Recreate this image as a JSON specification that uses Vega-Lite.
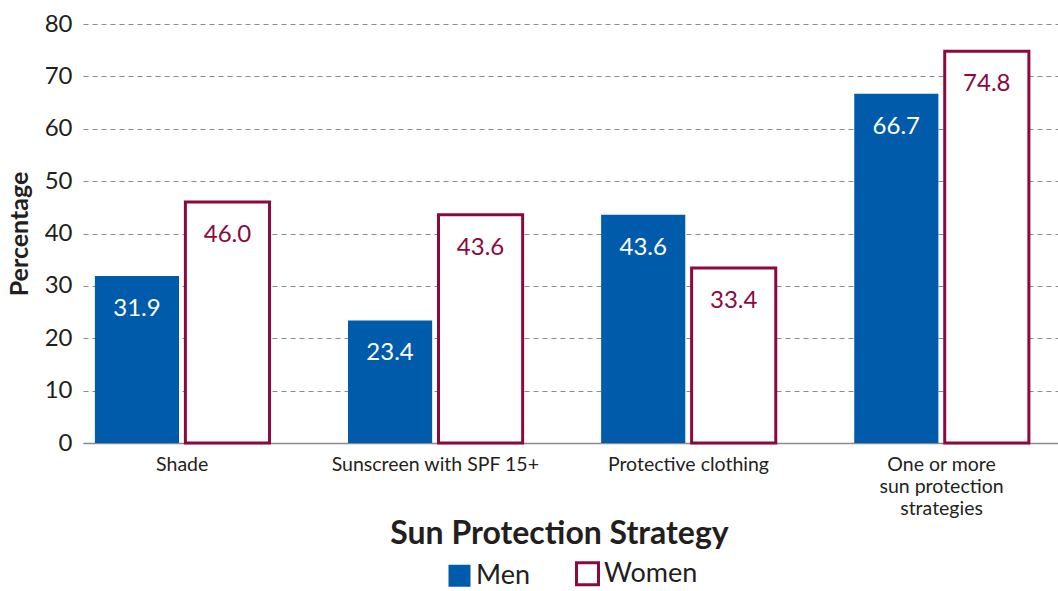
{
  "$schema": "https://vega.github.io/schema/vega-lite/v6.json",
  "width": 975,
  "height": 419,
  "autosize": {"type": "none"},
  "padding": {"left": 83, "top": 24, "right": 0, "bottom": 148},
  "config": {
    "font": "Lato",
    "view": {"stroke": null},
    "axis": {"labelColor": "#231f20", "titleColor": "#231f20"}
  },
  "data": {
    "values": [
      {"strategy": "Shade", "sex": "Men", "pct": 31.9},
      {"strategy": "Shade", "sex": "Women", "pct": 46.0},
      {"strategy": "Sunscreen with SPF 15+", "sex": "Men", "pct": 23.4},
      {"strategy": "Sunscreen with SPF 15+", "sex": "Women", "pct": 43.6},
      {"strategy": "Protective clothing", "sex": "Men", "pct": 43.6},
      {"strategy": "Protective clothing", "sex": "Women", "pct": 33.4},
      {"strategy": "One or more sun protection strategies", "sex": "Men", "pct": 66.7},
      {"strategy": "One or more sun protection strategies", "sex": "Women", "pct": 74.8}
    ]
  },
  "encoding": {
    "x": {
      "field": "strategy",
      "type": "nominal",
      "sort": ["Shade", "Sunscreen with SPF 15+", "Protective clothing", "One or more sun protection strategies"],
      "scale": {"paddingInner": 0.31, "paddingOuter": 0.081, "align": 0.29},
      "axis": {
        "title": "Sun Protection Strategy",
        "titleFontSize": 32,
        "titleFontWeight": "bold",
        "titleX": 476,
        "titleY": 90,
        "titleBaseline": "middle",
        "labelAngle": 0,
        "labelFontSize": 19.5,
        "labelLimit": 300,
        "labelPadding": 12,
        "labelLineHeight": 22,
        "labelExpr": "datum.label == 'One or more sun protection strategies' ? ['One or more', 'sun protection', 'strategies'] : datum.label",
        "ticks": false,
        "domainColor": "#8a8a8a",
        "domainWidth": 1.5,
        "grid": false
      }
    },
    "xOffset": {
      "field": "sex",
      "type": "nominal",
      "sort": ["Men", "Women"],
      "scale": {"paddingInner": 0.07}
    },
    "y": {
      "field": "pct",
      "type": "quantitative",
      "scale": {"domain": [0, 80]},
      "axis": {
        "title": "Percentage",
        "titleFontSize": 25,
        "titleFontWeight": "bold",
        "titlePadding": 12,
        "values": [0, 10, 20, 30, 40, 50, 60, 70, 80],
        "labelFontSize": 24,
        "labelPadding": 11,
        "ticks": false,
        "domain": false,
        "grid": true,
        "gridDash": [5, 4],
        "gridColor": "#8a8a8a",
        "gridWidth": 1
      }
    }
  },
  "layer": [
    {
      "mark": {"type": "bar"},
      "encoding": {
        "fill": {
          "field": "sex",
          "type": "nominal",
          "scale": {"domain": ["Men", "Women"], "range": ["#005baa", "#ffffff"]},
          "legend": {
            "title": null,
            "orient": "none",
            "legendX": 363,
            "legendY": 536,
            "direction": "horizontal",
            "symbolType": "square",
            "symbolSize": 484,
            "symbolStrokeWidth": 3,
            "labelFontSize": 27,
            "labelColor": "#231f20",
            "labelOffset": 3,
            "columnPadding": 40
          }
        },
        "stroke": {
          "field": "sex",
          "type": "nominal",
          "scale": {"domain": ["Men", "Women"], "range": ["#005baa", "#8a0a3f"]}
        },
        "strokeWidth": {
          "field": "sex",
          "type": "nominal",
          "scale": {"domain": ["Men", "Women"], "range": [0, 3]},
          "legend": null
        }
      }
    },
    {
      "mark": {"type": "text", "baseline": "middle", "dy": 33, "fontSize": 24},
      "encoding": {
        "text": {"field": "pct", "type": "quantitative", "format": ".1f"},
        "color": {
          "condition": {"test": "datum.sex === 'Men'", "value": "#ffffff"},
          "value": "#8a0a3f"
        }
      }
    }
  ]
}
